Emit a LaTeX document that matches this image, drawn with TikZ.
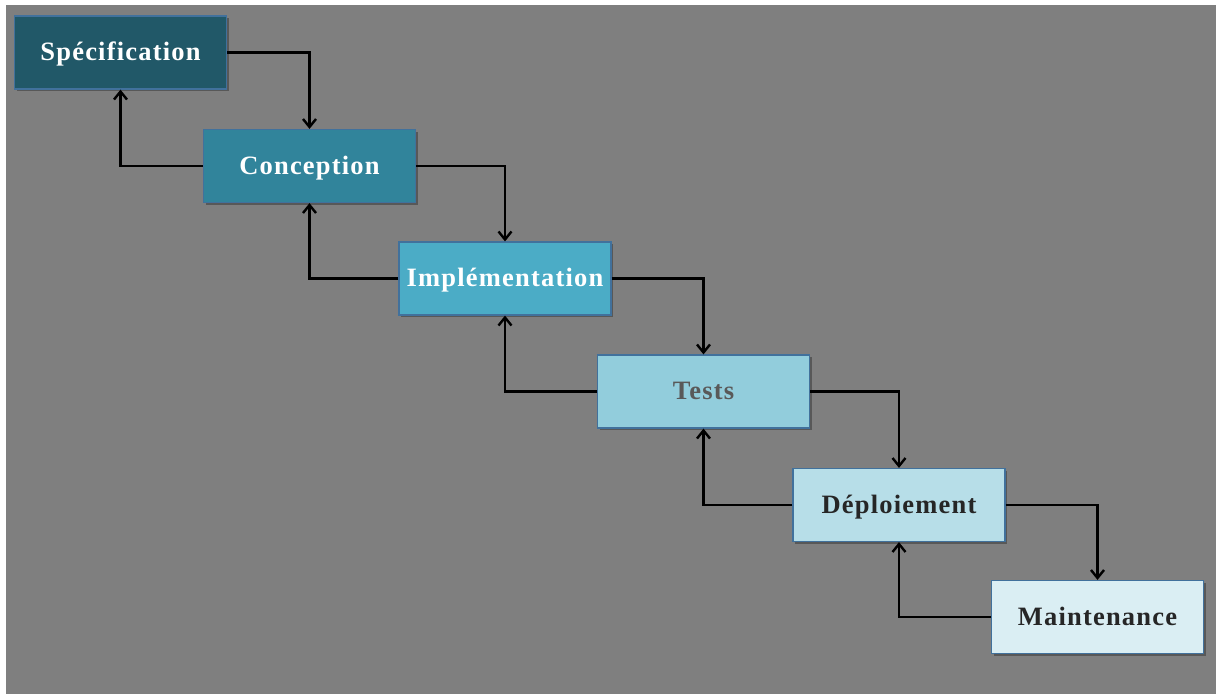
\documentclass[tikz,border=0pt]{standalone}
\usepackage{fontspec}
\setmainfont{Liberation Serif}
\newfontfamily\phasefont[LetterSpace=4.5]{Liberation Serif}
\usetikzlibrary{arrows.meta,shadows}
\definecolor{bgray}{HTML}{7F7F7F}
\definecolor{edgeblue}{HTML}{41719C}
\definecolor{cSpec}{HTML}{215868}
\definecolor{cConc}{HTML}{31849B}
\definecolor{cImpl}{HTML}{4BACC6}
\definecolor{cTest}{HTML}{92CDDC}
\definecolor{cDepl}{HTML}{B7DEE8}
\definecolor{cMain}{HTML}{DAEEF3}
\definecolor{txtgray}{HTML}{595959}
\definecolor{txtdark}{HTML}{262626}
\tikzset{
  phase/.style={draw=edgeblue, line width=1.2pt, minimum width=212pt, minimum height=73pt,
    inner sep=0pt, text height=16pt, text depth=0pt,
    font=\phasefont\fontsize{26.5}{30}\selectfont\bfseries,
    drop shadow={shadow xshift=2pt, shadow yshift=-2pt, fill=black, opacity=0.3}},
  link/.style={line width=2.9pt, draw=black, -{Straight Barb[length=8pt,width=13pt,line width=2.4pt]}}
}
\begin{document}
\begin{tikzpicture}[x=1pt,y=-1pt]
  \useasboundingbox (0,0) rectangle (1216,694);
  \fill[white] (0,0) rectangle (1216,694);
  \fill[bgray] (6,5) rectangle (1216,694);

  \node[phase, fill=cSpec, text=white] (spec)  at (120.5,52.5) {Spécification};
  \node[phase, fill=cConc, text=white] (conc)  at (309.5,166)  {Conception};
  \node[phase, fill=cImpl, text=white] (impl)  at (505,278.5)  {Implémentation};
  \node[phase, fill=cTest, text=txtgray] (tests) at (703.5,391.5) {Tests};
  \node[phase, fill=cDepl, text=txtdark] (depl)  at (899,505)    {Déploiement};
  \node[phase, fill=cMain, text=txtdark] (maint) at (1097.5,617) {Maintenance};

  % forward flow
  \draw[link] (spec.east)  -| (conc.north);
  \draw[link] (conc.east)  -| (impl.north);
  \draw[link] (impl.east)  -| (tests.north);
  \draw[link] (tests.east) -| (depl.north);
  \draw[link] (depl.east)  -| (maint.north);
  % feedback flow
  \draw[link] (conc.west)  -| (spec.south);
  \draw[link] (impl.west)  -| (conc.south);
  \draw[link] (tests.west) -| (impl.south);
  \draw[link] (depl.west)  -| (tests.south);
  \draw[link] (maint.west) -| (depl.south);
\end{tikzpicture}
\end{document}
